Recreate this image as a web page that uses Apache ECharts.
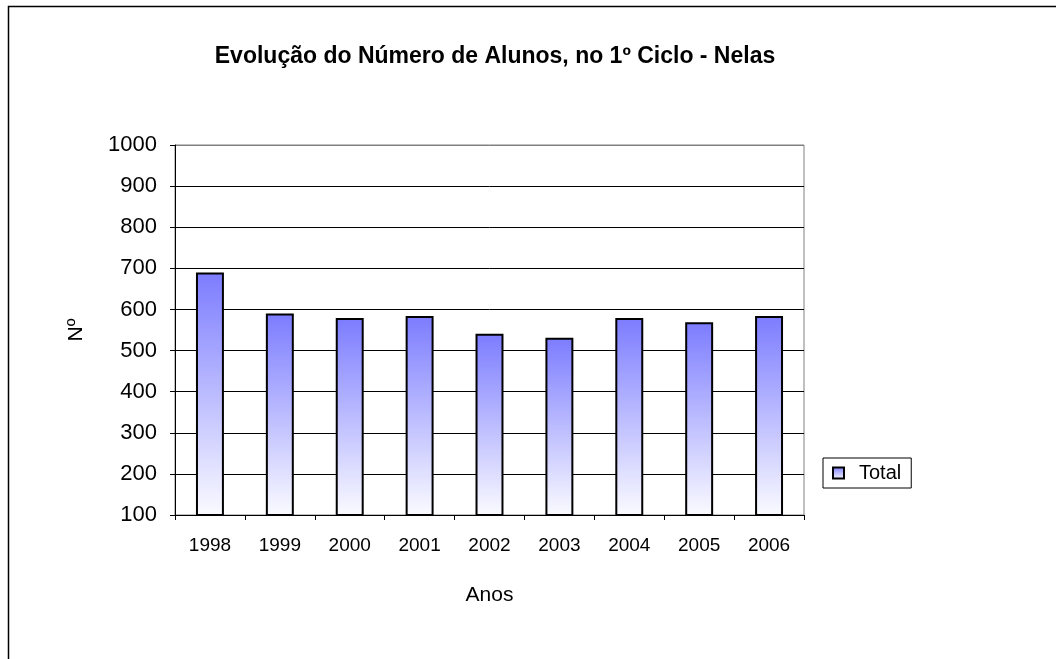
<!DOCTYPE html>
<html>
<head>
<meta charset="utf-8">
<script src="https://cdn.jsdelivr.net/npm/echarts@6/dist/echarts.min.js"></script>
<style>
  html, body { margin: 0; padding: 0; background: #fff; }
  #main { width: 1056px; height: 659px; }
</style>
</head>
<body>
<div id="main"></div>
<script>
// dados
const anos = ['1998', '1999', '2000', '2001', '2002', '2003', '2004', '2005', '2006']
const total = [690, 590, 579, 584, 541, 531, 579, 569, 584]
const yMin = 100
const yMax = 1000
const yStep = 100

const fontFamily = '"Liberation Sans", Arial, sans-serif'

// linhas de grelha: pretas, a de cima cinzenta (borda da área)
const splitColors = []
for (let v = yMin; v <= yMax; v += yStep) {
  splitColors.push(v === yMax ? '#808080' : '#000')
}

const barGradient = new echarts.graphic.LinearGradient(0, 0, 0, 1, [
  { offset: 0, color: '#7c7cff' },
  { offset: 1, color: '#fbfbff' }
])

const myChart = echarts.init(document.getElementById('main'))
const option = {
  backgroundColor: '#fff',
  animation: false,
  textStyle: { fontFamily: fontFamily, color: '#000' },
  title: {
    text: 'Evolução do Número de Alunos, no 1º Ciclo - Nelas',
    left: 490,
    top: 40,
    textAlign: 'center',
    textStyle: { fontSize: 23, fontWeight: 'bold', color: '#000', fontFamily: fontFamily }
  },
  graphic: [{
    type: 'rect',
    shape: { x: 8.5, y: 6.5, width: 1100, height: 700 },
    style: { fill: 'none', stroke: '#000', lineWidth: 1.5 },
    silent: true
  }],
  legend: {
    left: 823,
    top: 458,
    orient: 'vertical',
    padding: [5, 10, 5, 9],
    borderColor: '#000',
    borderWidth: 1,
    itemWidth: 11,
    itemHeight: 11,
    itemGap: 5,
    icon: 'rect',
    textStyle: { fontSize: 20, color: '#000', fontFamily: fontFamily, padding: [0, 0, 0, 10] },
    data: ['Total']
  },
  grid: {
    left: 175,
    right: 252,
    top: 145,
    bottom: 144,
    show: true,
    borderColor: '#808080',
    borderWidth: 1
  },
  xAxis: {
    type: 'category',
    data: anos,
    name: 'Anos',
    nameLocation: 'middle',
    nameGap: 70,
    nameTextStyle: { fontSize: 21, color: '#000' },
    axisLine: { lineStyle: { color: '#000', width: 1 } },
    axisTick: { show: true, alignWithLabel: false, length: 5, lineStyle: { color: '#000' } },
    axisLabel: { fontSize: 19, color: '#000', margin: 21 }
  },
  yAxis: {
    type: 'value',
    min: yMin,
    max: yMax,
    interval: yStep,
    name: 'Nº',
    nameLocation: 'middle',
    nameGap: 88,
    nameRotate: 90,
    nameTextStyle: { fontSize: 21, color: '#000' },
    axisLine: { show: true, lineStyle: { color: '#000', width: 1 } },
    axisTick: { show: true, length: 5, lineStyle: { color: '#000' } },
    axisLabel: { fontSize: 22, color: '#000', margin: 18, formatter: v => String(v) },
    splitLine: { show: true, lineStyle: { color: splitColors, width: 1 } }
  },
  series: [{
    name: 'Total',
    type: 'bar',
    data: total,
    barWidth: '40%',
    itemStyle: {
      color: barGradient,
      borderColor: '#000',
      borderWidth: 2
    }
  }]
}
myChart.setOption(option)
</script>
</body>
</html>
